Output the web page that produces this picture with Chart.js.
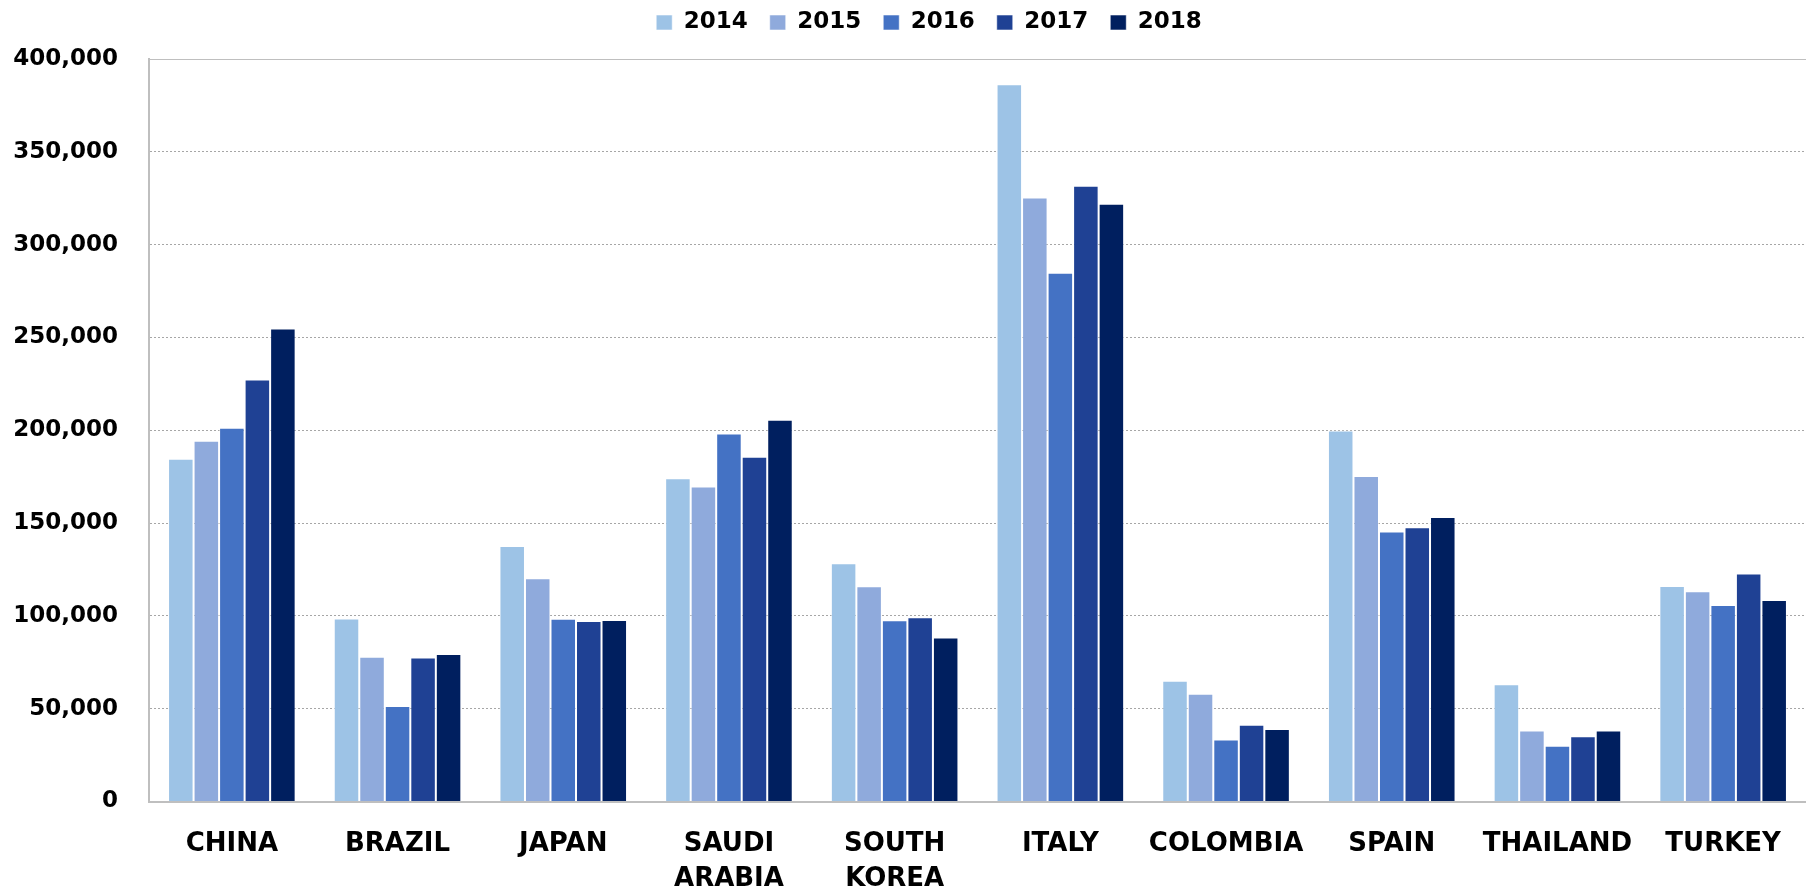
<!DOCTYPE html>
<html>
<head>
<meta charset="utf-8">
<title>Yearly values by country, 2014–2018</title>
<script src="https://cdn.jsdelivr.net/npm/chart.js@4/dist/chart.umd.min.js"></script>
<style>
  html, body { margin: 0; padding: 0; background: #ffffff; }
  #wrap { width: 1806px; height: 890px; position: relative; }
</style>
</head>
<body>
<div id="wrap"><canvas id="chart" width="1806" height="890"></canvas></div>
<script>
// Categories (two-line names are given as arrays)
const countries = ['CHINA', 'BRAZIL', 'JAPAN', ['SAUDI', 'ARABIA'], ['SOUTH', 'KOREA'],
                   'ITALY', 'COLOMBIA', 'SPAIN', 'THAILAND', 'TURKEY'];
const years = ['2014', '2015', '2016', '2017', '2018'];

// Series values, one array per year, in country order
const values2014 = [184600, 98600, 137600, 174200, 128300, 386400, 65100, 199900, 63100, 116100];
const values2015 = [194400, 78000, 120300, 169700, 115900, 325400, 58100, 175400, 38200, 113300];
const values2016 = [201300, 51400, 98400, 198200, 97700, 284800, 33400, 145400, 30100, 105900];
const values2017 = [227400, 77600, 97300, 185700, 99300, 331700, 41400, 147700, 35100, 122800];
const values2018 = [254800, 79400, 97800, 205700, 88300, 322000, 39100, 153200, 38200, 108600];

// Value-axis tick positions
const yTickValues = [0, 50000, 100000, 150000, 200000, 250000, 300000, 350000, 400000];

const seriesValues = [values2014, values2015, values2016, values2017, values2018];
const seriesColors = ['#9dc3e6', '#8faadc', '#4472c4', '#1f4194', '#001f5f'];

const FONT = "'DejaVu Sans', sans-serif";
const GRID_GREY = '#a6a6a6';
const FRAME_GREY = '#bfbfbf';

// Legend spacing: extra room under the legend, and horizontal/vertical nudge of its row
const LEGEND_EXTRA_HEIGHT = 4;
const LEGEND_SHIFT_X = 26;
const LEGEND_SHIFT_Y = -11;

const legendPlacement = {
  id: 'legendPlacement',
  beforeLayout(chart) {
    const lg = chart.legend;
    if (lg && !lg.__extraRoom) {
      const fit = lg.fit;
      lg.fit = function () { fit.call(this); this.height += LEGEND_EXTRA_HEIGHT; };
      lg.__extraRoom = true;
    }
  },
  afterLayout(chart) {
    const lg = chart.legend;
    if (!lg) return;
    lg.left += LEGEND_SHIFT_X; lg.right += LEGEND_SHIFT_X;
    lg.top += LEGEND_SHIFT_Y; lg.bottom += LEGEND_SHIFT_Y;
  }
};

const datasets = years.map((year, i) => ({
  label: year,
  data: seriesValues[i],
  backgroundColor: seriesColors[i],
  borderColor: 'rgba(255,255,255,0.55)',
  borderWidth: 1,
  barPercentage: 1,
  categoryPercentage: 0.77
}));

new Chart(document.getElementById('chart'), {
  type: 'bar',
  data: { labels: countries, datasets },
  plugins: [legendPlacement],
  options: {
    responsive: false,
    animation: false,
    devicePixelRatio: 1,
    layout: { padding: { top: 0, left: 0, right: 0, bottom: 0 } },
    plugins: {
      legend: {
        display: true,
        position: 'top',
        align: 'center',
        labels: {
          color: '#000000',
          font: { family: FONT, size: 23, weight: 'bold' },
          boxWidth: 16,
          boxHeight: 15,
          padding: 22
        }
      },
      tooltip: { enabled: false }
    },
    scales: {
      x: {
        grid: { display: false, drawTicks: false },
        border: { display: true, color: FRAME_GREY, width: 2 },
        ticks: {
          color: '#000000',
          font: { family: FONT, size: 26, weight: 'bold', lineHeight: 1.35 },
          padding: 25,
          maxRotation: 0,
          autoSkip: false
        },
        afterFit(scale) { scale.height = 88.5; }
      },
      y: {
        min: 0,
        max: 400000,
        afterBuildTicks(scale) { scale.ticks = yTickValues.map(v => ({ value: v })); },
        grid: {
          drawTicks: false,
          lineWidth: 1,
          color: ctx => (ctx.tick && ctx.tick.value === 400000) ? FRAME_GREY : GRID_GREY
        },
        border: {
          display: true,
          color: FRAME_GREY,
          width: 2,
          dash: ctx => (ctx.tick && ctx.tick.value === 400000) ? [] : [2, 2]
        },
        ticks: {
          color: '#000000',
          font: { family: FONT, size: 23, weight: 'bold' },
          padding: 31,
          callback: v => Number(v).toLocaleString('en-US')
        },
        afterFit(scale) { scale.width = 149; }
      }
    }
  }
});
</script>
</body>
</html>
